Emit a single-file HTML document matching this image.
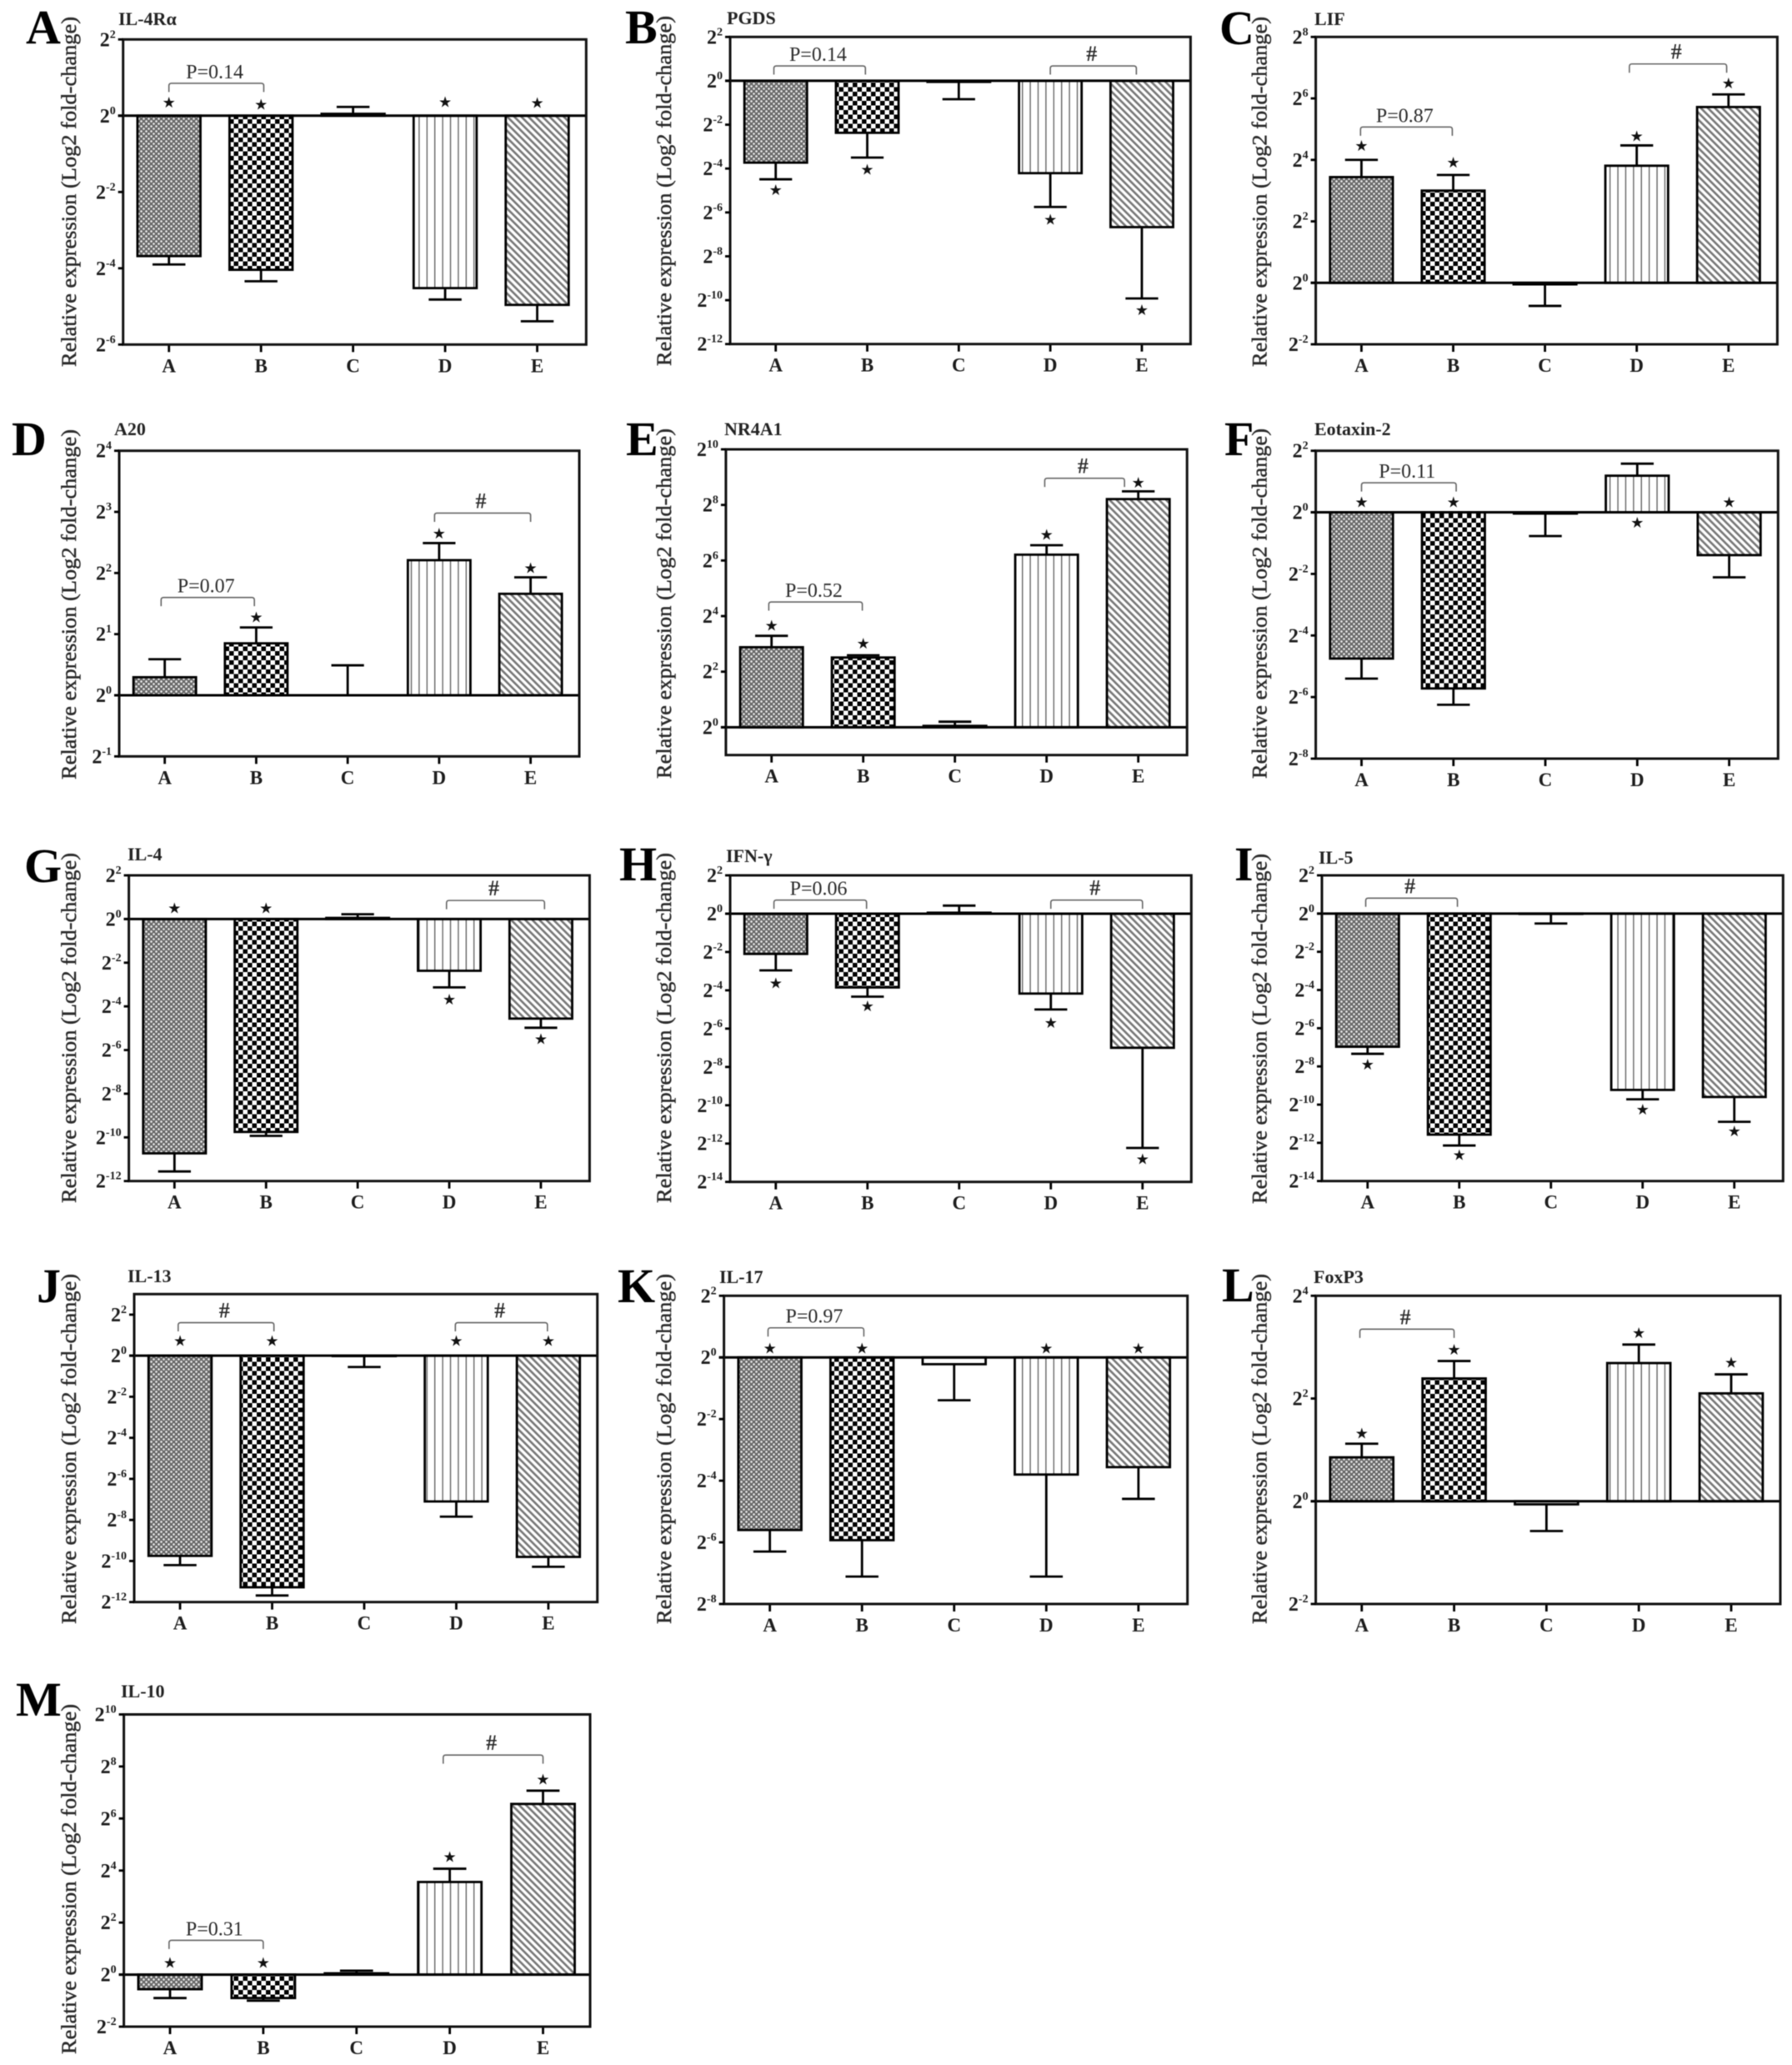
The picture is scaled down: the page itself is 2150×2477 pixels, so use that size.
<!DOCTYPE html>
<html lang="en">
<head>
<meta charset="utf-8">
<title>Relative expression panels</title>
<style>
html,body{margin:0;padding:0;background:#fff;}
svg{display:block;filter:blur(0.55px);}
text{font-family:"Liberation Serif","DejaVu Serif",serif;fill:#1c1c1c;}
.letter{font-size:58px;font-weight:bold;fill:#000;}
.ptitle{font-size:22px;font-weight:bold;fill:#222;}
.ytitle{font-size:25px;text-anchor:middle;fill:#2a2a2a;stroke:#2a2a2a;stroke-width:0.45px;}
</style>
</head>
<body>
<svg id="figure" xmlns="http://www.w3.org/2000/svg" width="2150" height="2477" viewBox="0 0 2150 2477">
<defs>
<pattern id="pat-dots" patternUnits="userSpaceOnUse" width="6" height="6"><rect width="6" height="6" fill="#666"/><circle cx="1.5" cy="1.5" r="1.35" fill="#e8e8e8"/><circle cx="4.5" cy="4.5" r="1.35" fill="#e8e8e8"/></pattern>
<pattern id="pat-check" patternUnits="userSpaceOnUse" width="11" height="11"><rect width="11" height="11" fill="#fff"/><rect width="5.5" height="5.5" fill="#000"/><rect x="5.5" y="5.5" width="5.5" height="5.5" fill="#000"/></pattern>
<pattern id="pat-vert" patternUnits="userSpaceOnUse" width="9.4" height="10"><rect width="9.4" height="10" fill="#fff"/><rect x="4" width="1.4" height="10" fill="#666"/></pattern>
<pattern id="pat-diag" patternUnits="userSpaceOnUse" width="6" height="6" patternTransform="rotate(-45)"><rect width="6" height="6" fill="#fff"/><rect width="2.6" height="6" fill="#777"/></pattern>
</defs>
<rect width="2150" height="2477" fill="#fff"/>

<g id="panel-a"><text class="letter" x="31" y="52">A</text><text class="ptitle" x="142" y="30">IL-4Rα</text><text class="ytitle" textLength="420" lengthAdjust="spacingAndGlyphs" transform="translate(91 230) rotate(-90)">Relative expression (Log2 fold-change)</text></g>
<g id="panel-b"><text class="letter" x="750" y="52">B</text><text class="ptitle" x="872" y="29">PGDS</text><text class="ytitle" textLength="420" lengthAdjust="spacingAndGlyphs" transform="translate(805 229) rotate(-90)">Relative expression (Log2 fold-change)</text></g>
<g id="panel-c"><text class="letter" x="1463" y="53">C</text><text class="ptitle" x="1577" y="30">LIF</text><text class="ytitle" textLength="420" lengthAdjust="spacingAndGlyphs" transform="translate(1519.5 230) rotate(-90)">Relative expression (Log2 fold-change)</text></g>
<g id="panel-d"><text class="letter" x="14" y="546">D</text><text class="ptitle" x="137" y="522">A20</text><text class="ytitle" textLength="420" lengthAdjust="spacingAndGlyphs" transform="translate(91 725) rotate(-90)">Relative expression (Log2 fold-change)</text></g>
<g id="panel-e"><text class="letter" x="751" y="546">E</text><text class="ptitle" x="869" y="522">NR4A1</text><text class="ytitle" textLength="420" lengthAdjust="spacingAndGlyphs" transform="translate(805 724) rotate(-90)">Relative expression (Log2 fold-change)</text></g>
<g id="panel-f"><text class="letter" x="1469" y="546">F</text><text class="ptitle" x="1577" y="522">Eotaxin-2</text><text class="ytitle" textLength="420" lengthAdjust="spacingAndGlyphs" transform="translate(1519.5 724) rotate(-90)">Relative expression (Log2 fold-change)</text></g>
<g id="panel-g"><text class="letter" x="29" y="1058">G</text><text class="ptitle" x="153" y="1032">IL-4</text><text class="ytitle" textLength="420" lengthAdjust="spacingAndGlyphs" transform="translate(91 1233) rotate(-90)">Relative expression (Log2 fold-change)</text></g>
<g id="panel-h"><text class="letter" x="743" y="1056">H</text><text class="ptitle" x="871" y="1034">IFN-γ</text><text class="ytitle" textLength="420" lengthAdjust="spacingAndGlyphs" transform="translate(805 1233) rotate(-90)">Relative expression (Log2 fold-change)</text></g>
<g id="panel-i"><text class="letter" x="1481" y="1056">I</text><text class="ptitle" x="1582" y="1036">IL-5</text><text class="ytitle" textLength="420" lengthAdjust="spacingAndGlyphs" transform="translate(1519.5 1234) rotate(-90)">Relative expression (Log2 fold-change)</text></g>
<g id="panel-j"><text class="letter" x="44" y="1562">J</text><text class="ptitle" x="153" y="1538">IL-13</text><text class="ytitle" textLength="420" lengthAdjust="spacingAndGlyphs" transform="translate(91 1738) rotate(-90)">Relative expression (Log2 fold-change)</text></g>
<g id="panel-k"><text class="letter" x="741" y="1562">K</text><text class="ptitle" x="863" y="1539">IL-17</text><text class="ytitle" textLength="420" lengthAdjust="spacingAndGlyphs" transform="translate(805 1738) rotate(-90)">Relative expression (Log2 fold-change)</text></g>
<g id="panel-l"><text class="letter" x="1466" y="1561">L</text><text class="ptitle" x="1576" y="1539">FoxP3</text><text class="ytitle" textLength="420" lengthAdjust="spacingAndGlyphs" transform="translate(1519.5 1738) rotate(-90)">Relative expression (Log2 fold-change)</text></g>
<g id="panel-m"><text class="letter" x="19" y="2058">M</text><text class="ptitle" x="145" y="2036">IL-10</text><text class="ytitle" textLength="420" lengthAdjust="spacingAndGlyphs" transform="translate(91 2254) rotate(-90)">Relative expression (Log2 fold-change)</text></g>
</svg>

<script>
const categories = ['A', 'B', 'C', 'D', 'E'];
const barPatterns = ['pat-dots', 'pat-check', 'none', 'pat-vert', 'pat-diag'];

const valuesA = [-3.68, -4.04, 0.05, -4.52, -4.96];
const errorsA = [-3.9, -4.34, 0.23, -4.82, -5.39];
const starsA = [0.35, 0.3, null, 0.36, 0.34];
const ticksA = [2, 0, -2, -4, -6];
const domainA = [2, -6];
const bracketsA = [[0, 1.03, 0.85, 'P=0.14']];

const valuesB = [-3.73, -2.37, -0.05, -4.21, -6.67];
const errorsB = [-4.49, -3.5, -0.84, -5.75, -9.92];
const starsB = [-4.97, -4.04, null, -6.32, -10.44];
const ticksB = [2, 0, -2, -4, -6, -8, -10, -12];
const domainB = [2, -12];
const bracketsB = [[-0.02, 0.98, 0.68, 'P=0.14'], [3.0, 3.94, 0.68, '#']];

const valuesC = [3.44, 3.0, -0.05, 3.81, 5.72];
const errorsC = [4.0, 3.51, -0.75, 4.47, 6.13];
const starsC = [4.46, 3.92, null, 4.77, 6.5];
const ticksC = [8, 6, 4, 2, 0, -2];
const domainC = [8, -2];
const bracketsC = [[-0.01, 0.99, 5.07, 'P=0.87'], [2.92, 3.98, 7.12, '#']];

const valuesD = [0.295, 0.85, 0, 2.21, 1.66];
const errorsD = [0.59, 1.11, 0.49, 2.49, 1.93];
const starsD = [null, 1.28, null, 2.65, 2.08];
const ticksD = [4, 3, 2, 1, 0, -1];
const domainD = [4, -1];
const bracketsD = [[-0.04, 0.98, 1.6, 'P=0.07'], [2.95, 4.0, 2.98, '#']];

const valuesE = [2.88, 2.51, 0.05, 6.21, 8.21];
const errorsE = [3.29, 2.59, 0.2, 6.55, 8.49];
const starsE = [3.66, 3.01, null, 6.93, 8.81];
const ticksE = [10, 8, 6, 4, 2, 0];
const domainE = [10, -1];
const bracketsE = [[-0.03, 0.99, 4.51, 'P=0.52'], [2.98, 3.85, 8.96, '#']];

const valuesF = [-4.75, -5.72, -0.04, 1.19, -1.39];
const errorsF = [-5.4, -6.25, -0.77, 1.58, -2.11];
const starsF = [0.33, 0.33, null, -0.33, 0.33];
const ticksF = [2, 0, -2, -4, -6, -8];
const domainF = [2, -8];
const bracketsF = [[0, 1.03, 0.96, 'P=0.11']];

const valuesG = [-10.73, -9.75, 0.05, -2.37, -4.56];
const errorsG = [-11.56, -9.93, 0.22, -3.13, -4.98];
const starsG = [0.5, 0.5, null, -3.69, -5.49];
const ticksG = [2, 0, -2, -4, -6, -8, -10, -12];
const domainG = [2, -12];
const bracketsG = [[2.97, 4.04, 0.85, '#']];

const valuesH = [-2.1, -3.85, 0.05, -4.17, -7.0];
const errorsH = [-2.96, -4.33, 0.42, -5.0, -12.23];
const starsH = [-3.63, -4.82, null, -5.69, -12.8];
const ticksH = [2, 0, -2, -4, -6, -8, -10, -12, -14];
const domainH = [2, -14];
const bracketsH = [[-0.02, 0.99, 0.71, 'P=0.06'], [3.0, 4.0, 0.71, '#']];

const valuesI = [-6.97, -11.57, -0.02, -9.23, -9.6];
const errorsI = [-7.34, -12.14, -0.52, -9.72, -10.9];
const starsI = [-7.9, -12.64, null, -10.25, -11.38];
const ticksI = [2, 0, -2, -4, -6, -8, -10, -12, -14];
const domainI = [2, -14];
const bracketsI = [[-0.02, 0.98, 0.81, '#']];

const valuesJ = [-9.75, -11.28, -0.02, -7.1, -9.8];
const errorsJ = [-10.2, -11.68, -0.55, -7.84, -10.28];
const starsJ = [0.72, 0.72, null, 0.72, 0.72];
const ticksJ = [2, 0, -2, -4, -6, -8, -10, -12];
const domainJ = [3, -12];
const bracketsJ = [[-0.02, 1.02, 1.61, '#'], [2.99, 3.99, 1.61, '#']];

const valuesK = [-5.6, -5.93, -0.22, -3.8, -3.56];
const errorsK = [-6.3, -7.11, -1.39, -7.11, -4.59];
const starsK = [0.3, 0.3, null, 0.3, 0.3];
const ticksK = [2, 0, -2, -4, -6, -8];
const domainK = [2, -8];
const bracketsK = [[-0.02, 1.02, 0.96, 'P=0.97']];

const valuesL = [0.855, 2.39, -0.06, 2.69, 2.1];
const errorsL = [1.12, 2.73, -0.58, 3.05, 2.47];
const starsL = [1.32, 2.95, null, 3.28, 2.7];
const ticksL = [4, 2, 0, -2];
const domainL = [4, -2];
const bracketsL = [[-0.02, 1.0, 3.35, '#']];

const valuesM = [-0.56, -0.9, 0.05, 3.56, 6.56];
const errorsM = [-0.9, -1.0, 0.15, 4.07, 7.07];
const starsM = [0.46, 0.46, null, 4.52, 7.5];
const ticksM = [10, 8, 6, 4, 2, 0, -2];
const domainM = [10, -2];
const bracketsM = [[-0.01, 1.0, 1.32, 'P=0.31'], [2.93, 4.0, 8.44, '#']];

const SVG_NS = 'http://www.w3.org/2000/svg';

function make(tag, attrs, parent) {
  const node = document.createElementNS(SVG_NS, tag);
  for (const k in attrs) node.setAttribute(k, attrs[k]);
  parent.appendChild(node);
  return node;
}

function drawPanel(id, box, values, errors, stars, ticks, domain, brackets) {
  const g = document.getElementById(id);
  const w = box.right - box.left;
  const unit = w / categories.length;
  const barW = unit * 0.68;
  const capW = unit * 0.355;
  const pitch = box.pitch || 0.994;
  const x = (i) => box.left + (0.495 + i * pitch) * unit;
  const y = (v) => box.top + (domain[0] - v) / (domain[0] - domain[1]) * (box.bottom - box.top);
  let el;

  categories.forEach(function (cat, i) {
    const v = values[i];
    const top = Math.min(y(0), y(v));
    const h = Math.abs(y(v) - y(0));

    el = make('line', {x1: x(i), x2: x(i), y1: y(v), y2: y(errors[i]), stroke: '#000', 'stroke-width': 2.8}, g);
    
    

    el = make('line', {x1: x(i) - capW / 2, x2: x(i) + capW / 2, y1: y(errors[i]), y2: y(errors[i]), stroke: '#000', 'stroke-width': 2.8}, g);
    
    

    if (h > 0) {
      const fill = barPatterns[i] === 'none' ? '#fff' : 'url(#' + barPatterns[i] + ')';
      el = make('rect', {x: x(i) - barW / 2, y: top, width: barW, height: h, fill: fill, stroke: '#000', 'stroke-width': 2.8}, g);
      
      
    }

    el = make('line', {x1: x(i), x2: x(i), y1: box.bottom, y2: box.bottom + 9, stroke: '#000', 'stroke-width': 2.8}, g);
    
    

    el = make('text', {x: x(i), y: box.bottom + 33, 'text-anchor': 'middle', 'font-size': 23, 'font-weight': 'bold'}, g);
    el.textContent = cat;
    
    

    if (stars[i] !== null) {
      el = make('text', {x: x(i), y: y(stars[i]) + 6.2, 'text-anchor': 'middle', 'font-size': 18, style: 'font-family:"DejaVu Sans",sans-serif;fill:#111'}, g);
      el.textContent = '★';
      
      
    }
  });

  el = make('line', {x1: box.left - 6, x2: box.right, y1: y(0), y2: y(0), stroke: '#000', 'stroke-width': 3}, g);
  
  

  el = make('rect', {x: box.left, y: box.top, width: w, height: box.bottom - box.top, fill: 'none', stroke: '#111', 'stroke-width': 3}, g);
  
  

  ticks.forEach(function (t) {
    el = make('line', {x1: box.left - 6, x2: box.left, y1: y(t), y2: y(t), stroke: '#000', 'stroke-width': 2.8}, g);
    
    

    el = make('text', {x: box.left - 9, y: y(t) + 8, 'text-anchor': 'end', 'font-size': 24, 'font-weight': 'bold'}, g);
    
    
    el.appendChild(document.createTextNode('2'));
    const sup = make('tspan', {'font-size': 14, dy: -10}, el);
    sup.textContent = String(t);
    
    
  });

  brackets.forEach(function (b) {
    const x1 = x(b[0]);
    const x2 = x(b[1]);
    const yt = y(b[2]);
    const r = 3;
    const isHash = b[3] === '#';
    const d = 'M' + x1 + ' ' + (yt + 10.5) + 'V' + (yt + r) + 'Q' + x1 + ' ' + yt + ' ' + (x1 + r) + ' ' + yt +
      'H' + (x2 - r) + 'Q' + x2 + ' ' + yt + ' ' + x2 + ' ' + (yt + r) + 'V' + (yt + 10.5);
    el = make('path', {d: d, fill: 'none', stroke: '#666', 'stroke-width': 1.6}, g);
    
    

    el = make('text', {x: (x1 + x2) / 2 - 2, y: yt - 6, 'text-anchor': 'middle', 'font-size': isHash ? 26 : 24, 'font-weight': isHash ? 'bold' : 'normal', style: 'fill:#2c2c2c'}, g);
    el.textContent = b[3];
    
    
  });
}

drawPanel('panel-a', {left: 147.7, right: 703.3, top: 47.3, bottom: 413.3}, valuesA, errorsA, starsA, ticksA, domainA, bracketsA);
drawPanel('panel-b', {left: 876, right: 1428.4, top: 44.3, bottom: 412.7}, valuesB, errorsB, starsB, ticksB, domainB, bracketsB);
drawPanel('panel-c', {left: 1578.6, right: 2132.4, top: 44.3, bottom: 413}, valuesC, errorsC, starsC, ticksC, domainC, bracketsC);
drawPanel('panel-d', {left: 143, right: 695, top: 540.7, bottom: 907.3}, valuesD, errorsD, starsD, ticksD, domainD, bracketsD);
drawPanel('panel-e', {left: 870.9, right: 1424.2, top: 539, bottom: 905.7}, valuesE, errorsE, starsE, ticksE, domainE, bracketsE);
drawPanel('panel-f', {left: 1578.6, right: 2133.3, top: 540.7, bottom: 910}, valuesF, errorsF, starsF, ticksF, domainF, bracketsF);
drawPanel('panel-g', {left: 154.6, right: 707.4, top: 1050, bottom: 1416.7}, valuesG, errorsG, starsG, ticksG, domainG, bracketsG);
drawPanel('panel-h', {left: 876, right: 1429.3, top: 1050, bottom: 1417.7}, valuesH, errorsH, starsH, ticksH, domainH, bracketsH);
drawPanel('panel-i', {left: 1586, right: 2139.3, top: 1050, bottom: 1416.7}, valuesI, errorsI, starsI, ticksI, domainI, bracketsI);
drawPanel('panel-j', {left: 161, right: 716.7, top: 1552.3, bottom: 1921.7}, valuesJ, errorsJ, starsJ, ticksJ, domainJ, bracketsJ);
drawPanel('panel-k', {left: 868.6, right: 1424.7, top: 1554.3, bottom: 1924}, valuesK, errorsK, starsK, ticksK, domainK, bracketsK);
drawPanel('panel-l', {left: 1578.6, right: 2136, top: 1554.3, bottom: 1924}, valuesL, errorsL, starsL, ticksL, domainL, bracketsL);
drawPanel('panel-m', {left: 148.6, right: 708, top: 2056.5, bottom: 2431, pitch: 1}, valuesM, errorsM, starsM, ticksM, domainM, bracketsM);
</script>
</body>
</html>
